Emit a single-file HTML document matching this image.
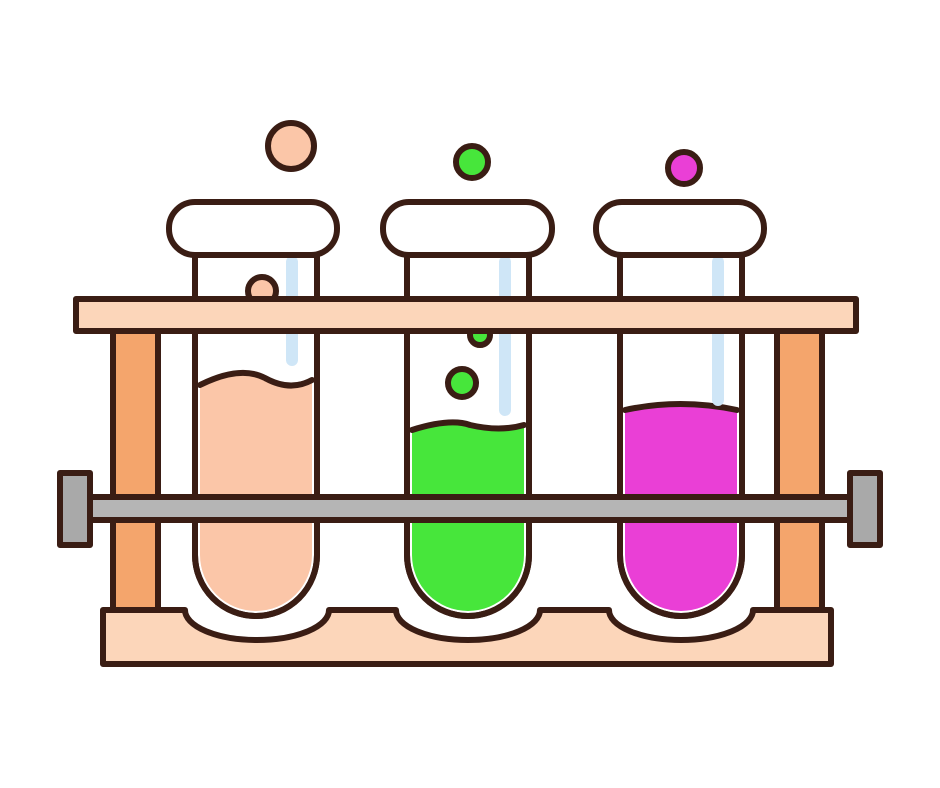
<!DOCTYPE html>
<html><head><meta charset="utf-8"><style>
html,body{margin:0;padding:0;background:#fff;width:940px;height:788px;overflow:hidden}
</style></head><body>
<svg width="940" height="788" viewBox="0 0 940 788">
<g stroke="#3a1d14" stroke-width="6" stroke-linejoin="round" stroke-linecap="round">
  <rect x="113" y="330" width="45" height="282" fill="#f4a56c"/>
  <rect x="777" y="330" width="45" height="282" fill="#f4a56c"/>
  <path d="M103 610 H185 A72 30 0 0 0 329 610 H396 A72 30 0 0 0 540 610 H609 A72 30 0 0 0 753 610 H831 V664 H103 Z" fill="#fcd6ba"/>
  <g>
    <path d="M195 255 V555 A61 61 0 0 0 317 555 V255 Z" fill="#fff"/>
    <path d="M200 385 Q240 365 265 378 Q290 392 312 380 V555 A56 56 0 0 1 200 555 Z" fill="#fbc6a8" stroke="none"/>
    <path d="M200 385 Q240 365 265 378 Q290 392 312 380" fill="none"/>
    <path d="M292 262 V360" stroke="#cfe6f7" stroke-width="12"/>
    <path d="M195 255 V555 A61 61 0 0 0 317 555 V255" fill="none"/>
    <circle cx="262" cy="291" r="14" fill="#fbc6a8"/>
  </g>
  <g>
    <path d="M407 255 V555 A61 61 0 0 0 529 555 V255 Z" fill="#fff"/>
    <path d="M412 430 Q450 418 470 425 Q500 432 524 425 V555 A56 56 0 0 1 412 555 Z" fill="#47e63b" stroke="none"/>
    <path d="M412 430 Q450 418 470 425 Q500 432 524 425" fill="none"/>
    <path d="M505 262 V410" stroke="#cfe6f7" stroke-width="12"/>
    <path d="M407 255 V555 A61 61 0 0 0 529 555 V255" fill="none"/>
    <circle cx="462" cy="383" r="14" fill="#47e63b"/>
    <circle cx="480" cy="335" r="10" fill="#47e63b"/>
  </g>
  <g>
    <path d="M620 255 V555 A61 61 0 0 0 742 555 V255 Z" fill="#fff"/>
    <path d="M625 410 Q680 398 737 410 V555 A56 56 0 0 1 625 555 Z" fill="#ea3fd6" stroke="none"/>
    <path d="M625 410 Q680 398 737 410" fill="none"/>
    <path d="M718 262 V400" stroke="#cfe6f7" stroke-width="12"/>
    <path d="M620 255 V555 A61 61 0 0 0 742 555 V255" fill="none"/>
  </g>
  <rect x="169" y="202" width="168" height="53" rx="26" fill="#fff"/>
  <rect x="383" y="202" width="169" height="53" rx="26" fill="#fff"/>
  <rect x="596" y="202" width="168" height="53" rx="26" fill="#fff"/>
  <rect x="76" y="299" width="780" height="32" fill="#fcd6ba"/>
  <rect x="60" y="473" width="30" height="72" fill="#a9a9a9"/>
  <rect x="850" y="473" width="30" height="72" fill="#a9a9a9"/>
  <rect x="90" y="497" width="760" height="23" fill="#b5b5b5"/>
  <circle cx="291" cy="146" r="23" fill="#fbc6a8"/>
  <circle cx="472" cy="162" r="16" fill="#47e63b"/>
  <circle cx="684" cy="168" r="16" fill="#ea3fd6"/>
</g>
</svg>
</body></html>
